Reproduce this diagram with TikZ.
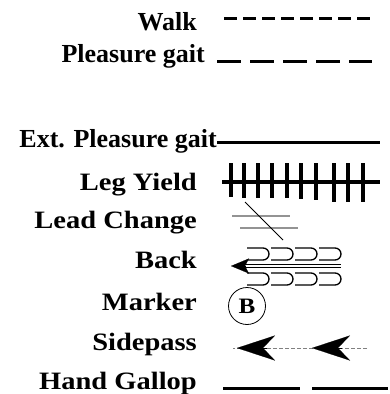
\documentclass[tikz,border=0pt]{standalone}
\usepackage{fontspec}
\setmainfont{Liberation Serif}
\newfontfamily\widefont[FakeStretch=1.14]{Liberation Serif}
\usetikzlibrary{arrows.meta,calc}

\tikzset{
  toplbl/.style={anchor=base east, inner sep=0pt, font=\bfseries\fontsize{26}{26}\selectfont},
  lowlbl/.style={anchor=base east, inner sep=0pt, font=\widefont\bfseries\fontsize{25}{25}\selectfont},
  gait/.style={line width=3pt},
  thinline/.style={line width=1.2pt, gray!85}
}

\begin{document}
\begin{tikzpicture}[x=1pt,y=-1pt]
\useasboundingbox (0,0) rectangle (390,394);

% Labels
\node[toplbl] (walk) at (197,30) {Walk};
\node[toplbl] (pleas) at (205,62) {Pleasure gait};
\node[toplbl] (ext) at (217,147) {Ext. Pleasure gait};
\node[lowlbl] (leg) at (197,190) {Leg Yield};
\node[lowlbl] (lead) at (197,228) {Lead Change};
\node[lowlbl] (back) at (197,268) {Back};
\node[lowlbl] (marker) at (197,310) {Marker};
\node[lowlbl] (side) at (197,350) {Sidepass};
\node[lowlbl] (hand) at (197,389) {Hand Gallop};

% Walk and pleasure gait
\coordinate (w1) at (224,18);
\coordinate (w2) at (373,18);
\draw[gait, dash pattern=on 13pt off 6pt] (w1) -- (w2);
\coordinate (p1) at (217,61);
\coordinate (p2) at (372,61);
\draw[gait, dash pattern=on 24pt off 9pt] (p1) -- (p2);

% Extended pleasure gait
\coordinate (e1) at (217,142);
\coordinate (e2) at (380,142);
\draw[gait] (e1) -- (e2);

% Leg yield
\coordinate (l1) at (222,182);
\coordinate (l2) at (380,182);
\draw[line width=4pt] (l1) -- (l2);
\foreach \x/\b in {231/197,244/198,258/198,272/198,287/198,301/199,316/200,334/202,348/202,363/202} {
  \draw[line width=3.5pt] (\x,163) -- (\x,\b);
}

% Lead change
\draw[thinline] (232,216) -- (290,216);
\draw[thinline] (240,228) -- (298,228);
\draw[line width=0.8pt] (245,202) -- (283,240);

% Back
\coordinate (b1) at (341,266);
\coordinate (b2) at (231,266);
\draw[line width=1.2pt, double, double distance=2.2pt] (b1) -- ($(b2)+(12,0)$);
\draw[line width=0.1pt, -{Stealth[length=18pt,width=15pt,inset=4pt]}] ($(b2)+(14,0)$) -- (b2);
\foreach \x in {247,271,295,319} {
  \draw[line width=1.3pt, rounded corners=6pt] (\x,248) -- ++(22,0) -- ++(0,12) -- ++(-22,0);
  \draw[line width=1.3pt, rounded corners=6pt] (\x,273) -- ++(22,0) -- ++(0,12) -- ++(-22,0);
}

% Marker
\node[circle, draw, line width=0.8pt, minimum size=37pt, inner sep=0pt,
      font=\widefont\bfseries\fontsize{22}{22}\selectfont] (mk) at (247,306) {B};

% Sidepass
\coordinate (s1) at (367,348);
\coordinate (s2) at (233,348);
\draw[line width=0.8pt, gray, dash pattern=on 4pt off 2pt] (s1) -- (s2);
\foreach \x in {237,312} {
  \draw[line width=0.1pt, -{Stealth[length=38pt,width=25pt,inset=12pt]}] (\x+30,348) -- (\x,348);
}

% Hand gallop
\coordinate (h1) at (223,388);
\coordinate (h2) at (300,388);
\coordinate (h3) at (312,388);
\coordinate (h4) at (388,388);
\draw[gait] (h1) -- (h2);
\draw[gait] (h3) -- (h4);
\end{tikzpicture}
\end{document}
